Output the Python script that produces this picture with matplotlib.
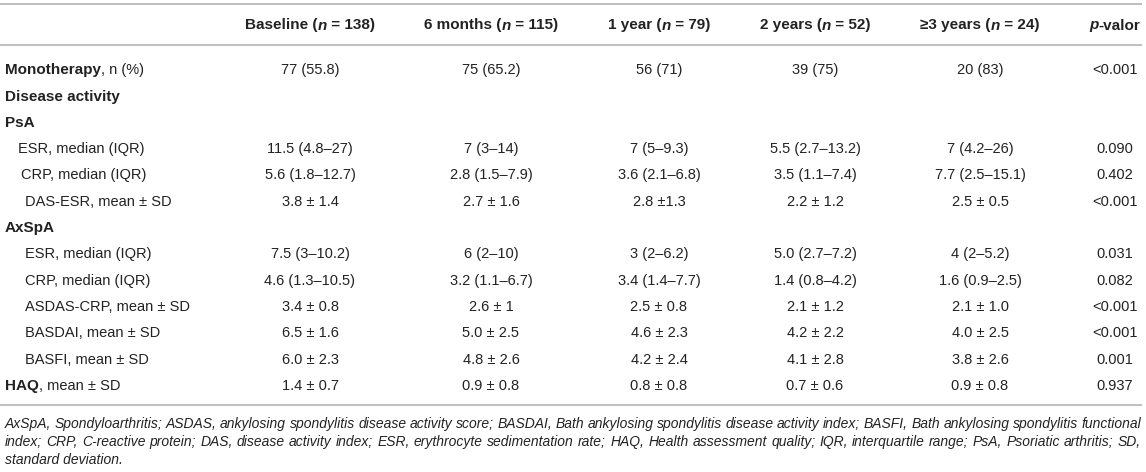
import matplotlib.pyplot as plt

# table content
col_names = ["Baseline", "6 months", "1 year", "2 years", "≥3 years"]
col_n = [138, 115, 79, 52, 24]
p_header = "valor"

label_bold = ["Monotherapy", "Disease activity", "PsA", "", "", "", "AxSpA",
              "", "", "", "", "", "HAQ"]
label_rest = [", n (%)", "", "", "ESR, median (IQR)", "CRP, median (IQR)",
              "DAS-ESR, mean ± SD", "", "ESR, median (IQR)", "CRP, median (IQR)",
              "ASDAS-CRP, mean ± SD", "BASDAI, mean ± SD", "BASFI, mean ± SD",
              ", mean ± SD"]

baseline = ["77 (55.8)", "", "", "11.5 (4.8–27)", "5.6 (1.8–12.7)", "3.8 ± 1.4", "",
            "7.5 (3–10.2)", "4.6 (1.3–10.5)", "3.4 ± 0.8", "6.5 ± 1.6", "6.0 ± 2.3", "1.4 ± 0.7"]
six_months = ["75 (65.2)", "", "", "7 (3–14)", "2.8 (1.5–7.9)", "2.7 ± 1.6", "",
              "6 (2–10)", "3.2 (1.1–6.7)", "2.6 ± 1", "5.0 ± 2.5", "4.8 ± 2.6", "0.9 ± 0.8"]
one_year = ["56 (71)", "", "", "7 (5–9.3)", "3.6 (2.1–6.8)", "2.8 ±1.3", "",
            "3 (2–6.2)", "3.4 (1.4–7.7)", "2.5 ± 0.8", "4.6 ± 2.3", "4.2 ± 2.4", "0.8 ± 0.8"]
two_years = ["39 (75)", "", "", "5.5 (2.7–13.2)", "3.5 (1.1–7.4)", "2.2 ± 1.2", "",
             "5.0 (2.7–7.2)", "1.4 (0.8–4.2)", "2.1 ± 1.2", "4.2 ± 2.2", "4.1 ± 2.8", "0.7 ± 0.6"]
three_plus = ["20 (83)", "", "", "7 (4.2–26)", "7.7 (2.5–15.1)", "2.5 ± 0.5", "",
              "4 (2–5.2)", "1.6 (0.9–2.5)", "2.1 ± 1.0", "4.0 ± 2.5", "3.8 ± 2.6", "0.9 ± 0.8"]
p_valor = ["<0.001", "", "", "0.090", "0.402", "<0.001", "",
           "0.031", "0.082", "<0.001", "<0.001", "0.001", "0.937"]

footnote = [
    "AxSpA, Spondyloarthritis; ASDAS, ankylosing spondylitis disease activity score; BASDAI, Bath ankylosing spondylitis disease activity index; BASFI, Bath ankylosing spondylitis functional",
    "index; CRP, C-reactive protein; DAS, disease activity index; ESR, erythrocyte sedimentation rate; HAQ, Health assessment quality; IQR, interquartile range; PsA, Psoriatic arthritis; SD,",
    "standard deviation.",
]

# layout
W, H = 1146, 472
FAM = ['Liberation Sans', 'DejaVu Sans']
TXT = '#222222'
LINE = '#b4b4b4'
col_x = [310, 491, 659, 815, 980]
p_x = 1115
label_indent = [5, 5, 5, 18, 21, 25, 5, 25, 25, 25, 25, 25, 5]
row_y0, row_dy = 69, 26.3
body_fs, head_fs, foot_fs = 10.5, 11, 10.0

fig = plt.figure(figsize=(W / 100, H / 100), dpi=100)
ax = fig.add_axes([0, 0, 1, 1])
ax.set_xlim(0, W)
ax.set_ylim(H, 0)
ax.axis('off')
renderer = fig.canvas.get_renderer()


def text_width(s, **kw):
    t = ax.text(0, 0, '|' + s + '|', family=FAM, **kw)
    w1 = t.get_window_extent(renderer).width
    t.set_text('||')
    w2 = t.get_window_extent(renderer).width
    t.remove()
    return w1 - w2


def rich(x, y, parts, ha='left'):
    widths = [text_width(s, **kw) for s, kw in parts]
    total = sum(widths)
    x0 = x - total / 2 if ha == 'center' else x
    for (s, kw), w in zip(parts, widths):
        ax.text(x0, y, s, ha='left', va='baseline', family=FAM, color=TXT, **kw)
        x0 += w


def base(yc, fs):
    return yc + 0.36 * fs * 100 / 72


# rules
for yl in (4, 45, 405):
    ax.plot([0, 1142], [yl, yl], color=LINE, lw=1.2, solid_capstyle='butt')

# header
hb = dict(fontsize=head_fs, fontweight='bold')
hbi = dict(fontsize=head_fs, fontweight='bold', fontstyle='italic')
for name, n, x in zip(col_names, col_n, col_x):
    rich(x, base(24, head_fs), [(name + " (", hb), ("n", hbi), (" = %d)" % n, hb)], ha='center')
rich(p_x, base(24, head_fs), [("p", hbi), ("-" + p_header, hb)], ha='center')

# body
columns = [baseline, six_months, one_year, two_years, three_plus]
bk = dict(fontsize=body_fs)
bb = dict(fontsize=head_fs, fontweight='bold')
for i in range(len(label_bold)):
    yb = base(row_y0 + i * row_dy, body_fs)
    parts = []
    if label_bold[i]:
        parts.append((label_bold[i], bb))
    if label_rest[i]:
        parts.append((label_rest[i], bk))
    rich(label_indent[i], yb, parts)
    for col, x in zip(columns, col_x):
        if col[i]:
            ax.text(x, yb, col[i], ha='center', va='baseline', family=FAM,
                    color=TXT, fontsize=body_fs)
    if p_valor[i]:
        ax.text(p_x, yb, p_valor[i], ha='center', va='baseline', family=FAM,
                color=TXT, fontsize=body_fs)

# footnote, justified
fk = dict(fontsize=foot_fs, fontstyle='italic')
foot_y = [423, 441, 459]
left, right = 5, 1141
for k, line in enumerate(footnote):
    yb = base(foot_y[k], foot_fs)
    words = line.split(' ')
    if k < len(footnote) - 1:
        ws = [text_width(w, **fk) for w in words]
        gap = (right - left - sum(ws)) / (len(words) - 1)
        x = left
        for w, wd in zip(words, ws):
            ax.text(x, yb, w, ha='left', va='baseline', family=FAM, color=TXT, **fk)
            x += wd + gap
    else:
        ax.text(left, yb, line, ha='left', va='baseline', family=FAM, color=TXT, **fk)

fig.savefig('out.png', dpi=100, facecolor='white')
